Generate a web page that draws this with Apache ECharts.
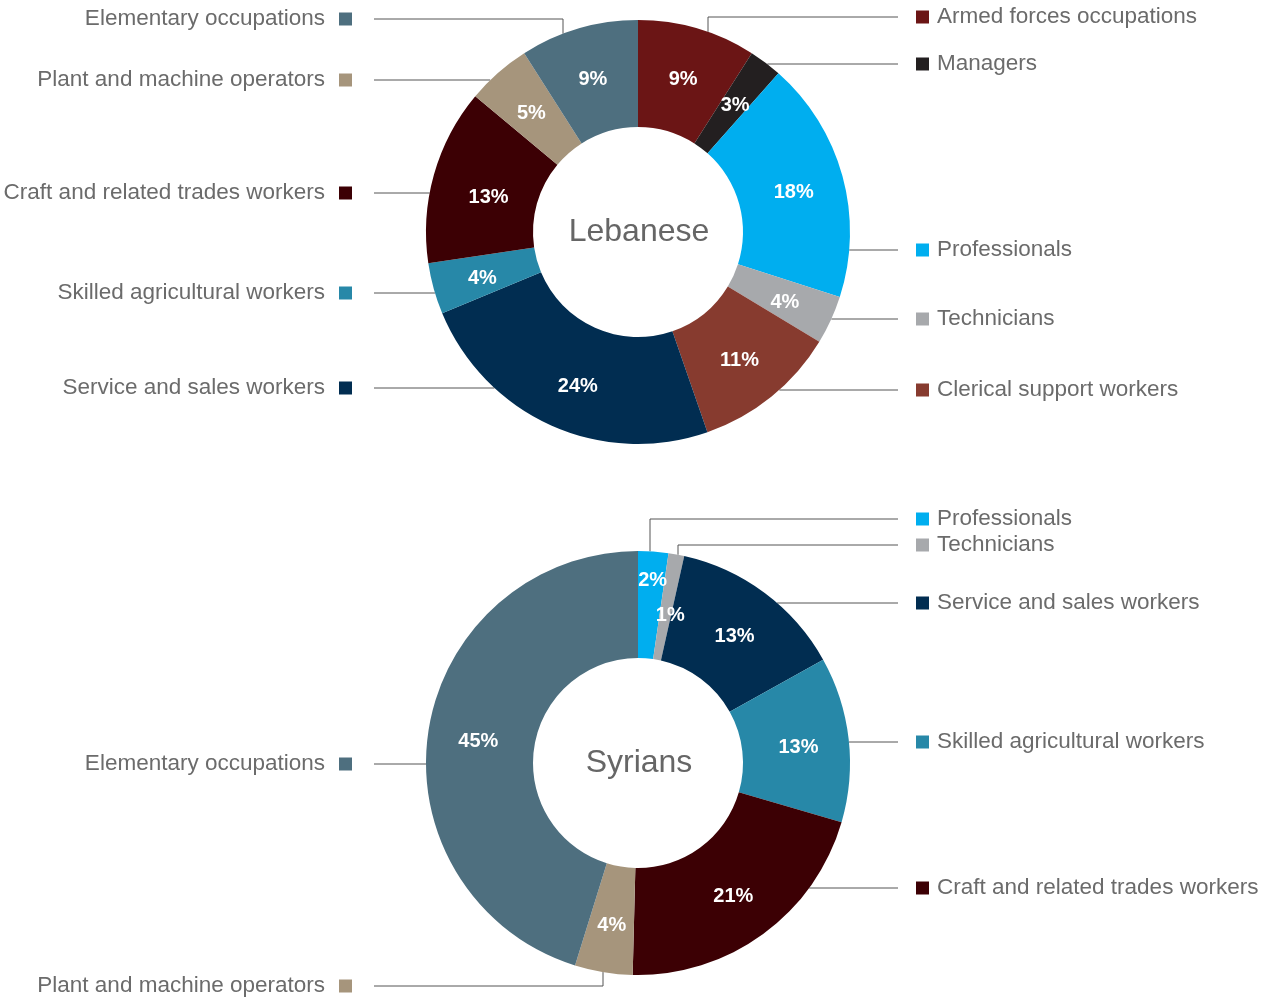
<!DOCTYPE html>
<html>
<head>
<meta charset="utf-8">
<script src="https://cdn.jsdelivr.net/npm/echarts@6/dist/echarts.min.js"></script>
<style>
html,body{margin:0;padding:0;background:#fff;}
#chart{width:1261px;height:1001px;}
</style>
</head>
<body>
<div id="chart"></div>
<script>
// ---- data ----
const categoriesLeb = ['Armed forces occupations','Managers','Professionals','Technicians','Clerical support workers','Service and sales workers','Skilled agricultural workers','Craft and related trades workers','Plant and machine operators','Elementary occupations'];
const valuesLeb = [9.0, 2.5, 18.4, 3.7, 11.0, 24.0, 3.9, 13.4, 4.9, 9.0];
const categoriesSyr = ['Professionals','Technicians','Service and sales workers','Skilled agricultural workers','Craft and related trades workers','Plant and machine operators','Elementary occupations'];
const valuesSyr = [2.3, 1.2, 13.4, 12.6, 20.9, 4.4, 45.2];
const titles = ['Lebanese', 'Syrians'];

// ---- styles ----
const colorMap = {
  'Armed forces occupations': '#6b1515',
  'Managers': '#231f20',
  'Professionals': '#00aeef',
  'Technicians': '#a7a9ac',
  'Clerical support workers': '#873b2f',
  'Service and sales workers': '#012d51',
  'Skilled agricultural workers': '#2788a8',
  'Craft and related trades workers': '#3c0004',
  'Plant and machine operators': '#a6957c',
  'Elementary occupations': '#4e6f7f'
};
const FONT = '"Liberation Sans", Arial, sans-serif';
const TEXT_COLOR = '#6b6b6b';
const CX = 638, R_IN = 105, R_OUT = 212;
const centers = [[CX, 232], [CX, 763]];
// label placement: side, label y, optional elbow x
const layoutLeb = [
  {side:'R', y:17, elbow:708},
  {side:'R', y:64},
  {side:'R', y:250},
  {side:'R', y:319},
  {side:'R', y:390},
  {side:'L', y:388},
  {side:'L', y:293},
  {side:'L', y:193},
  {side:'L', y:80},
  {side:'L', y:19, elbow:563}
];
const layoutSyr = [
  {side:'R', y:519, elbow:650},
  {side:'R', y:545, elbow:678},
  {side:'R', y:603},
  {side:'R', y:742},
  {side:'R', y:888},
  {side:'L', y:986, elbow:603},
  {side:'L', y:764}
];
const innerShiftLeb = {7:{dx:6, dy:6}, 5:{dx:6, dy:4}};
const innerShiftSyr = {0:{dx:3, dy:-24}, 1:{dx:3, dy:8}};

function makeData(cats, vals) {
  return cats.map((c, i) => ({name: c, value: vals[i], itemStyle: {color: colorMap[c]}}));
}
function makeLabelData(cats, vals, layout) {
  return cats.map((c, i) => {
    const L = layout[i];
    const fmt = L.side === 'R' ? '{sq|}{t|' + c + '}' : '{t|' + c + '}{sq|}';
    return {
      name: c, value: vals[i],
      itemStyle: {color: 'rgba(0,0,0,0)'},
      label: {
        formatter: fmt,
        rich: {
          sq: {width: 13, height: 13, backgroundColor: colorMap[c], verticalAlign: 'middle'},
          t: {fontFamily: FONT, fontSize: 22.5, color: TEXT_COLOR, verticalAlign: 'middle',
              padding: L.side === 'R' ? [0,0,0,8] : [0,14,0,0]}
        }
      }
    };
  });
}
function labelLayoutFor(layout, cy) {
  return function (p) {
    const L = layout[p.dataIndex];
    const right = L.side === 'R';
    const endX = right ? 898 : 374;
    let anchor, elbow;
    if (L.elbow !== undefined) {
      const dx = L.elbow - CX;
      const h = Math.sqrt(R_OUT * R_OUT - dx * dx);
      const ay = L.y < cy ? cy - h : cy + h;
      anchor = [L.elbow, ay];
      elbow = [L.elbow, L.y];
    } else {
      const dy = L.y - cy;
      const w = Math.sqrt(R_OUT * R_OUT - dy * dy);
      anchor = [right ? CX + w : CX - w, L.y];
      elbow = anchor.slice();
    }
    return {
      x: right ? 916 : 352,
      y: L.y,
      align: right ? 'left' : 'right',
      verticalAlign: 'middle',
      labelLinePoints: [anchor, elbow, [endX, L.y]]
    };
  };
}

function innerSeries(cats, vals, center, shifts) {
  return {
    type: 'pie', center: center, radius: [R_IN, R_OUT], startAngle: 90, clockwise: true,
    avoidLabelOverlap: false, silent: true,
    data: makeData(cats, vals),
    label: {
      show: true, position: 'inside', color: '#fff', fontFamily: FONT, fontSize: 20, fontWeight: 'bold',
      formatter: p => Math.round(p.value) + '%'
    },
    labelLine: {show: false},
    labelLayout: p => {
      const s = shifts[p.dataIndex];
      return s ? {dx: s.dx, dy: s.dy + 3} : {dy: 3};
    },
    emphasis: {disabled: true}
  };
}
function outerSeries(cats, vals, center, layout) {
  return {
    type: 'pie', center: center, radius: [R_IN, R_OUT], startAngle: 90, clockwise: true,
    avoidLabelOverlap: false, silent: true,
    data: makeLabelData(cats, vals, layout),
    label: {show: true, position: 'outside'},
    labelLine: {show: true, length: 10, length2: 10, lineStyle: {color: '#555', width: 1}},
    labelLayout: labelLayoutFor(layout, center[1]),
    emphasis: {disabled: true}
  };
}

const chart = echarts.init(document.getElementById('chart'), null, {renderer: 'canvas'});
chart.setOption({
  animation: false,
  backgroundColor: '#fff',
  graphic: titles.map((t, i) => ({
    type: 'text', x: centers[i][0] + 1, y: centers[i][1],
    style: {text: t, fontFamily: FONT, fontSize: 32, fill: '#666', align: 'center', verticalAlign: 'middle'}
  })),
  series: [
    innerSeries(categoriesLeb, valuesLeb, centers[0], innerShiftLeb),
    outerSeries(categoriesLeb, valuesLeb, centers[0], layoutLeb),
    innerSeries(categoriesSyr, valuesSyr, centers[1], innerShiftSyr),
    outerSeries(categoriesSyr, valuesSyr, centers[1], layoutSyr)
  ]
});
</script>
</body>
</html>
